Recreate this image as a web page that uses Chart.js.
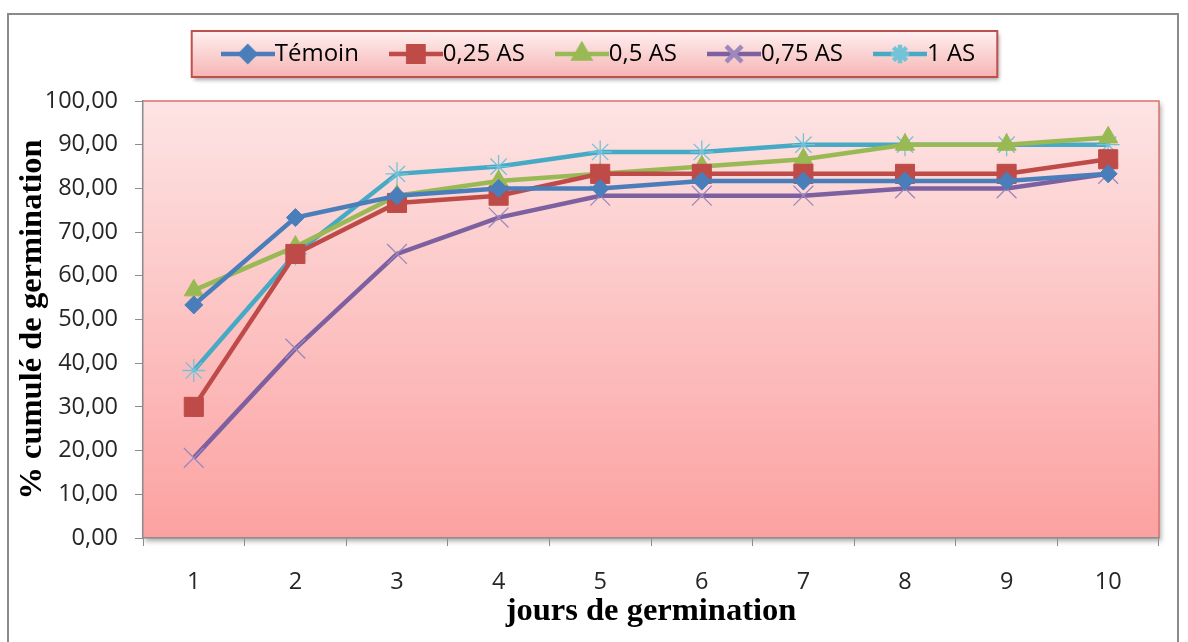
<!DOCTYPE html>
<html lang="fr">
<head>
  <meta charset="UTF-8" />
  <title>% cumulé de germination</title>
  <script src="https://cdn.jsdelivr.net/npm/chart.js"></script>
  <style>
    * { box-sizing: border-box; }
    html, body { margin: 0; padding: 0; background: #ffffff; }
    .cadre { width: 1188px; height: 642px; }
  </style>
</head>
<body>
  <div class="cadre"><canvas id="grafico" width="1188" height="642"></canvas></div>

  <script>
    // données
    const jours = ['1', '2', '3', '4', '5', '6', '7', '8', '9', '10'];
    const nomsSeries = ['Témoin', '0,25 AS', '0,5 AS', '0,75 AS', '1 AS'];
    const temoin = [53.33, 73.33, 78.33, 80.00, 80.00, 81.67, 81.67, 81.67, 81.67, 83.33];
    const as025  = [30.00, 65.00, 76.67, 78.33, 83.33, 83.33, 83.33, 83.33, 83.33, 86.67];
    const as05   = [56.67, 66.67, 78.33, 81.67, 83.33, 85.00, 86.67, 90.00, 90.00, 91.67];
    const as075  = [18.33, 43.33, 65.00, 73.33, 78.33, 78.33, 78.33, 80.00, 80.00, 83.33];
    const as1    = [38.33, 65.00, 83.33, 85.00, 88.33, 88.33, 90.00, 90.00, 90.00, 90.00];
    const yTickLabels = ['0,00', '10,00', '20,00', '30,00', '40,00', '50,00',
                         '60,00', '70,00', '80,00', '90,00', '100,00'];

    // style de chaque série (couleur, marqueur)
    const styles = [
      { couleur: '#4a7ebb', marque: 'rectRot',  rayon: 9,    bord: '#4a7ebb', ep: 1 },
      { couleur: '#be4b48', marque: 'rect',     rayon: 13.5, bord: '#be4b48', ep: 1 },
      { couleur: '#98b954', marque: 'triangle', rayon: 11,   bord: '#98b954', ep: 1 },
      { couleur: '#7d60a0', marque: 'crossRot', rayon: 14,   bord: '#9c88bd', ep: 1.3 },
      { couleur: '#46aac5', marque: 'star',     rayon: 11.5, bord: '#72c2d8', ep: 1.3 }
    ];
    const series = [temoin, as025, as05, as075, as1];

    // petite image trait + marqueur pour la légende
    function iconeLegende(i) {
      const s = styles[i];
      const c = document.createElement('canvas');
      c.width = 54; c.height = 26;
      const ctx = c.getContext('2d');
      ctx.strokeStyle = s.couleur;
      ctx.lineWidth = 4.5;
      ctx.beginPath();
      ctx.moveTo(0, 13);
      ctx.lineTo(54, 13);
      ctx.stroke();
      ctx.fillStyle = s.couleur;
      ctx.strokeStyle = s.bord;
      Chart.helpers.drawPoint(ctx, {
        pointStyle: s.marque, radius: s.rayon * 0.8, rotation: 0, borderWidth: s.ep
      }, 27, 13);
      return c;
    }

    const fondPlugin = {
      id: 'fond',
      beforeDraw(chart) {
        const { ctx, chartArea: a, width, height } = chart;
        ctx.save();
        ctx.fillStyle = '#ffffff';
        ctx.fillRect(0, 0, width, height);

        // cadre extérieur
        ctx.strokeStyle = '#8a8a8a';
        ctx.lineWidth = 2;
        ctx.strokeRect(8, 14, 1170, 660);

        // zone de traçage
        ctx.shadowColor = 'rgba(0,0,0,0.35)';
        ctx.shadowBlur = 5;
        ctx.shadowOffsetX = 2;
        ctx.shadowOffsetY = 3;
        const g = ctx.createLinearGradient(0, a.top, 0, a.bottom);
        g.addColorStop(0, '#fde4e4');
        g.addColorStop(1, '#fca1a1');
        ctx.fillStyle = g;
        ctx.fillRect(a.left, a.top, a.right - a.left, a.bottom - a.top);
        ctx.shadowColor = 'transparent';
        ctx.strokeStyle = '#d9716e';
        ctx.lineWidth = 1.5;
        ctx.beginPath();
        ctx.moveTo(a.left, a.top);
        ctx.lineTo(a.right, a.top);
        ctx.lineTo(a.right, a.bottom);
        ctx.stroke();

        // boîte de légende
        const lg = chart.legend;
        if (lg && lg.legendHitBoxes && lg.legendHitBoxes.length) {
          const hb = lg.legendHitBoxes;
          const last = hb[hb.length - 1];
          const x0 = hb[0].left - 41;
          const x1 = last.left + last.width + 22;
          const cy = lg.top + lg.options.labels.padding + 12;
          const y0 = cy - 23, y1 = cy + 23;
          ctx.shadowColor = 'rgba(0,0,0,0.35)';
          ctx.shadowBlur = 4;
          ctx.shadowOffsetX = 2;
          ctx.shadowOffsetY = 3;
          const gl = ctx.createLinearGradient(0, y0, 0, y1);
          gl.addColorStop(0, '#fff0f0');
          gl.addColorStop(1, '#f6b4b4');
          ctx.fillStyle = gl;
          ctx.fillRect(x0, y0, x1 - x0, y1 - y0);
          ctx.shadowColor = 'transparent';
          ctx.strokeStyle = '#c0504d';
          ctx.lineWidth = 2;
          ctx.strokeRect(x0, y0, x1 - x0, y1 - y0);
        }
        ctx.restore();
      }
    };

    const ctx = document.getElementById('grafico').getContext('2d');
    new Chart(ctx, {
      type: 'line',
      data: {
        labels: jours,
        datasets: series.map((vals, i) => ({
          label: nomsSeries[i],
          data: vals,
          yAxisID: 'y',
          borderColor: styles[i].couleur,
          backgroundColor: styles[i].couleur,
          borderWidth: 4.5,
          tension: 0,
          pointStyle: styles[i].marque,
          pointRadius: styles[i].rayon,
          pointHoverRadius: styles[i].rayon,
          pointBackgroundColor: styles[i].couleur,
          pointBorderColor: styles[i].bord,
          pointBorderWidth: styles[i].ep
        }))
      },
      options: {
        responsive: false,
        animation: false,
        layout: { padding: { left: 20, right: 0, top: 0, bottom: 0 } },
        plugins: {
          legend: {
            position: 'top',
            labels: {
              usePointStyle: true,
              pointStyleWidth: 30,
              padding: 42,
              color: '#262626',
              font: { family: 'Open Sans', size: 24 },
              generateLabels(chart) {
                return chart.data.datasets.map((ds, i) => ({
                  text: ds.label,
                  pointStyle: iconeLegende(i),
                  fillStyle: styles[i].couleur,
                  strokeStyle: styles[i].couleur,
                  lineWidth: 0,
                  hidden: false,
                  datasetIndex: i
                }));
              }
            }
          },
          // espace vide entre la légende et le graphique
          title: {
            display: true,
            text: ' ',
            weight: 500,
            padding: 0,
            font: { size: 10, lineHeight: '25px' }
          },
          tooltip: { enabled: false }
        },
        scales: {
          y: {
            min: 0,
            max: 100,
            ticks: {
              stepSize: 10,
              padding: 17,
              color: '#262626',
              font: { family: 'Open Sans', size: 23.5 },
              callback: (v, i) => yTickLabels[i]
            },
            grid: { drawOnChartArea: false, tickLength: 8, color: '#8c8c8c' },
            border: { color: '#8c8c8c', width: 1.5 },
            title: {
              display: true,
              text: '% cumulé de germination',
              color: '#000',
              font: { family: 'Liberation Serif', size: 32.5, weight: 'bold' },
              padding: { top: -7, bottom: 0 }
            },
            afterFit: s => { s.width = 123; }
          },
          x: {
            offset: true,
            grid: { offset: true, drawOnChartArea: false, tickLength: 8, color: '#8c8c8c' },
            border: { color: '#8c8c8c', width: 1.5 },
            ticks: {
              padding: 22,
              maxRotation: 0,
              color: '#262626',
              font: { family: 'Open Sans', size: 23.5 }
            },
            title: {
              display: true,
              text: 'jours de germination',
              color: '#000',
              font: { family: 'Liberation Serif', size: 32.5, weight: 'bold' },
              padding: { top: 0, bottom: 11 }
            },
            afterFit: s => { s.height = 104; }
          },
          droite: {
            type: 'linear',
            position: 'right',
            display: true,
            grid: { display: false },
            border: { display: false },
            ticks: { display: false },
            afterFit: s => { s.width = 29; }
          }
        }
      },
      plugins: [fondPlugin]
    });
  </script>
</body>
</html>
